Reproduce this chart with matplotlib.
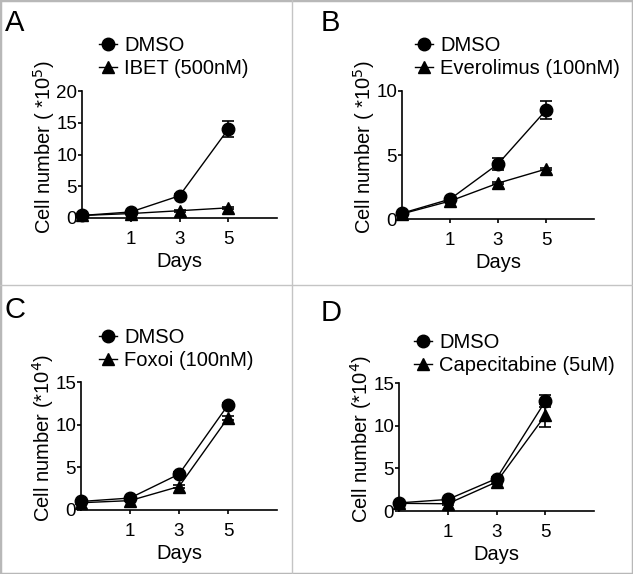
import numpy as np
import matplotlib.pyplot as plt
from matplotlib.lines import Line2D
from matplotlib.patches import Rectangle

plt.rcParams['font.family'] = ['Liberation Sans', 'DejaVu Sans']

# x positions of the measurements (first point sits on the y axis)
days = [-1, 1, 3, 5]
day_ticks = [1, 3, 5]

# panel A (x10^5)
a_dmso = [0.4, 0.95, 3.5, 14.0]
a_dmso_err = [0.1, 0.15, 0.25, 1.2]
a_ibet = [0.4, 0.7, 1.15, 1.6]
a_ibet_err = [0.05, 0.1, 0.15, 0.15]

# panel B (x10^5)
b_dmso = [0.45, 1.55, 4.3, 8.5]
b_dmso_err = [0.05, 0.1, 0.5, 0.7]
b_evero = [0.4, 1.4, 2.8, 3.9]
b_evero_err = [0.05, 0.1, 0.1, 0.1]

# panel C (x10^4)
c_dmso = [1.0, 1.4, 4.2, 12.3]
c_dmso_err = [0.1, 0.15, 0.2, 0.2]
c_foxoi = [0.85, 1.1, 2.75, 10.8]
c_foxoi_err = [0.1, 0.1, 0.2, 0.2]

# panel D (x10^4)
d_dmso = [0.95, 1.35, 3.8, 12.85]
d_dmso_err = [0.1, 0.15, 0.2, 0.7]
d_cape = [0.9, 0.85, 3.4, 11.2]
d_cape_err = [0.1, 0.15, 0.2, 1.3]

W, H = 633, 574
fig = plt.figure(figsize=(W / 100, H / 100), dpi=100)


def px_axes(left, right, y0, ytop):
    # axes rectangle from pixel coords (top-left origin)
    return fig.add_axes([left / W, 1 - y0 / H, (right - left) / W, (y0 - ytop) / H])


panels = [
    # letter, letter pos, axes px, ymax, yticks, exponent, ctrl, ctrl_err, trt, trt_err, trt label, legend anchor
    ('A', (5, 9), (82, 277, 218, 91), 20, [0, 5, 10, 15, 20], '( *10$^5$)',
     a_dmso, a_dmso_err, a_ibet, a_ibet_err, 'IBET (500nM)', (99, 36)),
    ('B', (321, 9), (402, 594, 219, 91), 10, [0, 5, 10], '( *10$^5$)',
     b_dmso, b_dmso_err, b_evero, b_evero_err, 'Everolimus (100nM)', (415, 36)),
    ('C', (4, 296), (81, 277, 510, 382), 15, [0, 5, 10, 15], '(*10$^4$)',
     c_dmso, c_dmso_err, c_foxoi, c_foxoi_err, 'Foxoi (100nM)', (99, 328)),
    ('D', (321, 299), (399, 594, 511, 383), 15, [0, 5, 10, 15], '(*10$^4$)',
     d_dmso, d_dmso_err, d_cape, d_cape_err, 'Capecitabine (5uM)', (414, 333)),
]

for (letter, lpos, box, ymax, yticks, expo, ctrl, ctrl_err, trt, trt_err,
     trt_label, leg_pos) in panels:
    ax = px_axes(*box)
    ax.errorbar(days, ctrl, yerr=ctrl_err, color='black', marker='o', ms=9,
                lw=1.0, capsize=4, elinewidth=1.2, capthick=1.2,
                clip_on=False, zorder=3)
    ax.errorbar(days, trt, yerr=trt_err, color='black', marker='^', ms=8.5,
                lw=1.0, capsize=4, elinewidth=1.2, capthick=1.2,
                clip_on=False, zorder=3)
    ax.set_xlim(-1, 7)
    ax.set_ylim(0, ymax)
    ax.set_xticks(day_ticks)
    ax.set_yticks(yticks)
    for s in ['top', 'right']:
        ax.spines[s].set_visible(False)
    for s in ['left', 'bottom']:
        ax.spines[s].set_linewidth(1.2)
    ax.tick_params(direction='out', length=3, width=1.2, labelsize=13.5)
    ax.tick_params(axis='x', pad=6.5)
    ax.tick_params(axis='y', pad=0.5)
    ax.set_xlabel('Days', fontsize=14.5, labelpad=3)
    ax.set_ylabel('Cell number ' + expo, fontsize=14.5)
    ax.yaxis.set_label_coords(-0.13, 0.56)
    handles = [Line2D([], [], color='black', marker='o', ms=9, lw=1.0),
               Line2D([], [], color='black', marker='^', ms=8.5, lw=1.0)]
    ax.legend(handles, ['DMSO', trt_label], loc='upper left',
              bbox_to_anchor=(leg_pos[0] / W, 1 - leg_pos[1] / H),
              bbox_transform=fig.transFigure, frameon=False,
              fontsize=14.5, handlelength=0.9, handletextpad=0.35,
              labelspacing=0.2, borderpad=0, borderaxespad=0)
    fig.text(lpos[0] / W, 1 - lpos[1] / H, letter, fontsize=21,
             ha='left', va='top')

# panel separators and outer frame
sep = '#c4c4c4'
fig.add_artist(Line2D([292 / W, 292 / W], [0, 1], color=sep, lw=1.0))
fig.add_artist(Line2D([0, 1], [1 - 285 / H, 1 - 285 / H], color=sep, lw=1.0))
fig.add_artist(Rectangle((0, 0), 1, 1, transform=fig.transFigure, fill=False,
                         edgecolor='#b8b8b8', lw=2.5))

fig.savefig('out.png', dpi=100)
